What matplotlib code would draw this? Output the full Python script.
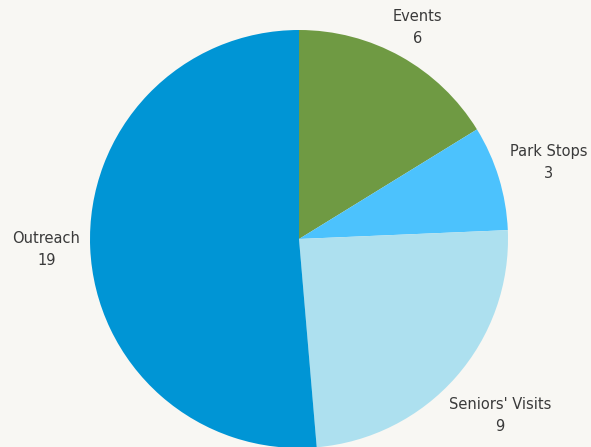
import matplotlib
matplotlib.use("Agg")
import matplotlib.pyplot as plt
import numpy as np

categories = ["Events", "Park Stops", "Seniors' Visits", "Outreach"]
values = [6, 3, 9, 19]
colors = ["#6f9a43", "#4cc2fd", "#ade0ef", "#0095d5"]
label_dist = [1.16, 1.25, 1.28, 1.21]

W, H = 591, 447
fig = plt.figure(figsize=(W / 100, H / 100), dpi=100)
bg = "#f8f7f3"
fig.patch.set_facecolor(bg)
ax = fig.add_axes([0, 0, 1, 1])
ax.set_facecolor(bg)

cx, cy, r = 299, H - 239, 209
wedges, _ = ax.pie(values, colors=colors, startangle=90, counterclock=False,
                   center=(cx, cy), radius=r, frame=True,
                   wedgeprops=dict(linewidth=0))
ax.set_xlim(0, W)
ax.set_ylim(0, H)
ax.set_aspect("equal")
ax.axis("off")

for w, cat, v, d in zip(wedges, categories, values, label_dist):
    ang = np.deg2rad((w.theta1 + w.theta2) / 2)
    x = cx + r * d * np.cos(ang)
    y = cy + r * d * np.sin(ang)
    ax.text(x, y, f"{cat}\n{v}", ha="center", va="center", fontsize=10.5,
            color="#3a3a3a", linespacing=1.6, family="DejaVu Sans")

fig.savefig("out.png", dpi=100, facecolor=bg)
